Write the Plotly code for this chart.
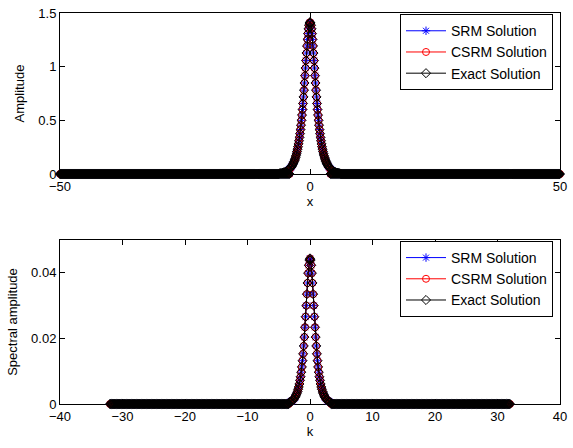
import numpy as np
import plotly.graph_objects as go
from plotly.subplots import make_subplots

# Half-profile of the amplitude (symmetric about x = 0)
x_half = [0.0, 0.1, 0.2, 0.3, 0.4, 0.5, 0.6, 0.7, 0.8, 0.9, 1.0, 1.1, 1.2, 1.3, 1.4, 1.5,
          1.6, 1.7, 1.8, 1.9, 2.0, 2.1, 2.2, 2.3, 2.4, 2.5, 2.6, 2.7, 2.8, 2.9, 3.0,
          3.1, 3.2, 3.3, 3.4, 3.5, 3.6, 3.7, 3.8, 3.9, 4.0, 4.2, 4.4, 4.6, 4.8, 5.0,
          5.2, 5.4, 5.6, 5.8, 6.0]
amp_half = [1.414, 1.407, 1.386, 1.353, 1.308, 1.254, 1.193, 1.127, 1.057, 0.987, 0.916,
            0.848, 0.781, 0.718, 0.657, 0.601, 0.549, 0.500, 0.455, 0.414, 0.376,
            0.341, 0.310, 0.281, 0.254, 0.231, 0.209, 0.189, 0.171, 0.155, 0.140,
            0.127, 0.115, 0.104, 0.094, 0.085, 0.077, 0.070, 0.063, 0.057, 0.052,
            0.042, 0.035, 0.028, 0.023, 0.019, 0.016, 0.013, 0.010, 0.009, 0.007]

# Half-profile of the spectral amplitude (symmetric about k = 0)
k_half = [0.0, 0.1, 0.2, 0.3, 0.4, 0.5, 0.6, 0.7, 0.8, 0.9, 1.0, 1.1, 1.2, 1.3, 1.4, 1.5,
          1.6, 1.7, 1.8, 1.9, 2.0, 2.1, 2.2, 2.3, 2.4, 2.5, 2.6, 2.7, 2.8, 2.9, 3.0,
          3.1, 3.2, 3.3]
spec_half = [0.0444, 0.0439, 0.0423, 0.0399, 0.0369, 0.0335, 0.0300, 0.0266, 0.0234,
             0.0204, 0.0177, 0.0153, 0.0132, 0.0113, 0.0097, 0.0083, 0.0072, 0.0061,
             0.0052, 0.0045, 0.0038, 0.0033, 0.0028, 0.0024, 0.0020, 0.0018, 0.0015,
             0.0013, 0.0011, 0.0009, 0.0008, 0.0007, 0.0006, 0.0005]

# sampling grids (zero elsewhere)
x_min, x_max, x_step = -50.0, 50.0, 0.1
k_min, k_max, k_step = -32.0, 32.0, 0.1

series_names = ["SRM Solution", "CSRM Solution", "Exact Solution"]


def build(lo, hi, step, half_pos, half_val):
    n = int(round((hi - lo) / step)) + 1
    grid = lo + step * np.arange(n)
    vals = np.zeros(n)
    for p, v in zip(half_pos, half_val):
        for s in (p, -p):
            idx = int(round((s - lo) / step))
            if 0 <= idx < n:
                vals[idx] = v
    return grid, vals


x, amp = build(x_min, x_max, x_step, x_half, amp_half)
k, spec = build(k_min, k_max, k_step, k_half, spec_half)

styles = [
    dict(color="#0000ff", symbol="asterisk-open"),
    dict(color="#ff0000", symbol="circle-open"),
    dict(color="#000000", symbol="diamond-open"),
]

fig = make_subplots(rows=2, cols=1)

for row, (xx, yy, leg) in enumerate([(x, amp, "legend"), (k, spec, "legend2")], start=1):
    for name, st in zip(series_names, styles):
        fig.add_trace(go.Scatter(
            x=xx, y=yy, name=name, mode="lines+markers",
            line=dict(color=st["color"], width=1),
            marker=dict(symbol=st["symbol"], size=7, color=st["color"],
                        line=dict(color=st["color"], width=1)),
            legend=leg, cliponaxis=False,
        ), row=row, col=1)

font = dict(family="Liberation Sans, Arial, sans-serif", size=13, color="black")
legfont = dict(family="Liberation Sans, Arial, sans-serif", size=14, color="black")

axis_common = dict(showline=True, linecolor="black", linewidth=1, mirror="ticks",
                   ticks="inside", ticklen=5, tickcolor="black", showgrid=False,
                   zeroline=False, tickfont=font, layer="below traces",
                   automargin=False)

fig.update_layout(
    template="none",
    width=573, height=448,
    margin=dict(l=60, r=13, t=13, b=44, pad=0),
    plot_bgcolor="white", paper_bgcolor="white",
    font=font,
    showlegend=True,
    xaxis=dict(domain=[0, 1], range=[-50, 50], tickvals=[-50, 0, 50],
               title=dict(text="x", font=font, standoff=2), **axis_common),
    yaxis=dict(domain=[0.5882, 1.0], range=[0, 1.5], tickvals=[0, 0.5, 1, 1.5],
               ticktext=["0", "0.5", "1", "1.5"],
               title=dict(text="Amplitude", font=font, standoff=10), **axis_common),
    xaxis2=dict(domain=[0, 1], range=[-40, 40], tickvals=list(range(-40, 41, 10)),
                title=dict(text="k", font=font, standoff=2), **axis_common),
    yaxis2=dict(domain=[0, 0.4194], range=[0, 0.05], tickvals=[0, 0.02, 0.04],
                ticktext=["0", "0.02", "0.04"],
                title=dict(text="Spectral amplitude", font=font, standoff=10), **axis_common),
    legend=dict(x=0.986, y=0.997, xanchor="right", yanchor="top",
                bgcolor="white", bordercolor="black", borderwidth=1,
                font=legfont, tracegroupgap=0, itemwidth=40),
    legend2=dict(x=0.986, y=0.4169, xanchor="right", yanchor="top",
                 bgcolor="white", bordercolor="black", borderwidth=1,
                 font=legfont, tracegroupgap=0, itemwidth=40),
)

fig.write_html("out.html")
